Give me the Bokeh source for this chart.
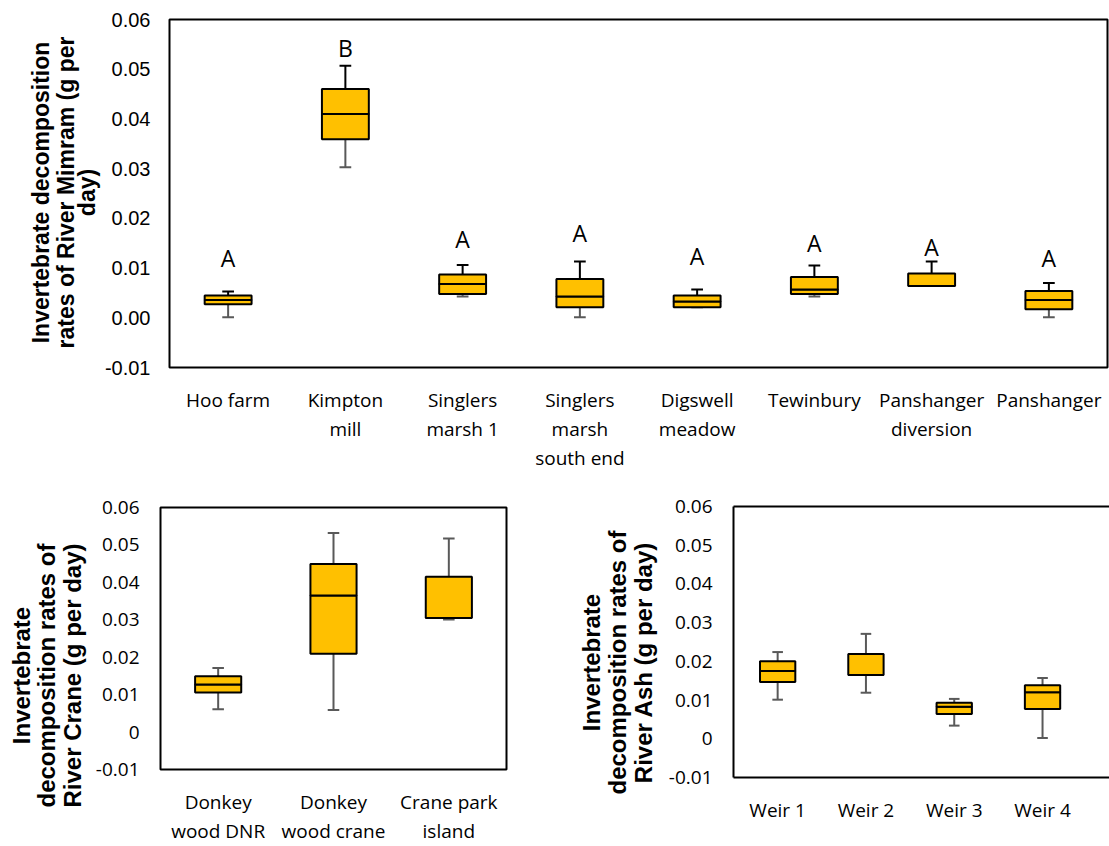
import math
import numpy as np
from bokeh.plotting import figure
from bokeh.layouts import column, row
from bokeh.models import FixedTicker, NumeralTickFormatter, Range1d, LinearAxis
from bokeh.core.properties import value
from bokeh.embed import file_html
from bokeh.resources import INLINE

# ---------------- data ----------------
mim_sites = ["Hoo farm", "Kimpton\nmill", "Singlers\nmarsh 1", "Singlers\nmarsh\nsouth end",
             "Digswell\nmeadow", "Tewinbury", "Panshanger\ndiversion", "Panshanger"]
mim_min = [0.0001, 0.0303, 0.0043, 0.0001, 0.0021, 0.0043, 0.0064, 0.0001]
mim_q1 = [0.0027, 0.0359, 0.0048, 0.0021, 0.0021, 0.0048, 0.0064, 0.0017]
mim_med = [0.0036, 0.0410, 0.0068, 0.0043, 0.0033, 0.0057, 0.0064, 0.0036]
mim_q3 = [0.0045, 0.0460, 0.0087, 0.0078, 0.0045, 0.0082, 0.0089, 0.0054]
mim_max = [0.0053, 0.0507, 0.0106, 0.0113, 0.0057, 0.0105, 0.0113, 0.0070]
mim_letters = ["A", "B", "A", "A", "A", "A", "A", "A"]
mim_letter_y = [0.0121, 0.0543, 0.0159, 0.0171, 0.0125, 0.0151, 0.0143, 0.0121]
mim_title = ["Invertebrate decomposition", "rates of River Mimram (g per", "day)"]

crane_sites = ["Donkey\nwood DNR", "Donkey\nwood crane", "Crane park\nisland"]
crane_min = [0.0061, 0.0059, 0.0301]
crane_q1 = [0.0106, 0.0209, 0.0305]
crane_med = [0.0127, 0.0365, 0.0305]
crane_q3 = [0.0149, 0.0449, 0.0415]
crane_max = [0.0171, 0.0532, 0.0517]
crane_title = ["Invertebrate", "decomposition rates of", "River Crane (g per day)"]

ash_sites = ["Weir 1", "Weir 2", "Weir 3", "Weir 4"]
ash_min = [0.0101, 0.0119, 0.0034, 0.0002]
ash_q1 = [0.0147, 0.0165, 0.0064, 0.0077]
ash_med = [0.0175, 0.0165, 0.0083, 0.0120]
ash_q3 = [0.0200, 0.0219, 0.0093, 0.0138]
ash_max = [0.0224, 0.0271, 0.0103, 0.0157]
ash_title = ["Invertebrate", "decomposition rates of", "River Ash (g per day)"]

y_ticks = [-0.01, 0.0, 0.01, 0.02, 0.03, 0.04, 0.05, 0.06]
Y0, Y1 = -0.01, 0.06

BOX_FILL = "#FFC000"
GRAY = "#595959"
TICK_FONT = "Open Sans"


def make_fig(width, height, n, x_end, mb_left, mb_right, mb_top, mb_bottom, fmt,
             ytick_font, ytick_size, ystand):
    p = figure(width=width, height=height, output_backend="svg", toolbar_location=None,
               x_range=Range1d(0.5, x_end), y_range=Range1d(Y0, Y1),
               min_border_left=mb_left, min_border_right=mb_right,
               min_border_top=mb_top, min_border_bottom=mb_bottom)
    p.frame_align = False
    p.xgrid.visible = False
    p.ygrid.visible = False
    p.background_fill_color = "white"
    p.border_fill_color = "white"
    p.outline_line_color = "black"
    p.outline_line_width = 2
    for ax in (p.xaxis[0], p.yaxis[0]):
        ax.axis_line_color = None
        ax.major_tick_line_color = None
        ax.minor_tick_line_color = None
        ax.major_tick_out = 0
        ax.major_tick_in = 0
        ax.major_label_text_color = "black"
    p.yaxis.ticker = FixedTicker(ticks=y_ticks)
    p.yaxis.formatter = NumeralTickFormatter(format=fmt)
    p.yaxis.major_label_text_font = ytick_font
    p.yaxis.major_label_text_font_size = ytick_size
    p.yaxis.major_label_standoff = ystand
    p.xaxis.ticker = FixedTicker(ticks=list(range(1, n + 1)))
    p.xaxis.major_label_text_font = TICK_FONT
    p.xaxis.major_label_text_font_size = "19px"
    p.xaxis.major_label_standoff = 19
    p.xaxis.major_label_text_line_height = 1.13
    return p


def title_fig(width, height, lines, xs, ys, size):
    t = figure(width=width, height=height, output_backend="svg", toolbar_location=None,
               x_range=Range1d(0, width), y_range=Range1d(0, height),
               x_axis_type=None, y_axis_type=None, min_border=0)
    t.frame_align = False
    t.xgrid.visible = False
    t.ygrid.visible = False
    t.outline_line_color = None
    t.background_fill_color = "white"
    t.border_fill_color = "white"
    t.text(x=xs, y=ys, text=lines, angle=math.pi / 2,
           text_font=value("Liberation Sans"), text_font_style="bold",
           text_font_size=size, text_align="center", text_baseline="middle",
           text_color="black")
    return t


def draw_boxes(p, vmin, q1, med, q3, vmax, box_w, cap_w, upper_color, lw=2):
    x = np.arange(1, len(q1) + 1, dtype=float)
    p.segment(x0=x, y0=q3, x1=x, y1=vmax, line_color=upper_color, line_width=lw)
    p.segment(x0=x - cap_w / 2, y0=vmax, x1=x + cap_w / 2, y1=vmax, line_color=upper_color, line_width=lw)
    p.segment(x0=x, y0=q1, x1=x, y1=vmin, line_color=GRAY, line_width=lw)
    p.segment(x0=x - cap_w / 2, y0=vmin, x1=x + cap_w / 2, y1=vmin, line_color=GRAY, line_width=lw)
    p.vbar(x=x, width=box_w, bottom=q1, top=med, fill_color=BOX_FILL, line_color="black", line_width=2)
    p.vbar(x=x, width=box_w, bottom=med, top=q3, fill_color=BOX_FILL, line_color="black", line_width=2)


# ---------------- top: River Mimram ----------------
n1 = len(mim_sites)
t1 = title_fig(101, 486, mim_title, [40, 65, 86], [294, 294, 294], "23px")
p1 = make_fig(1008, 486, n1, n1 + 0.5, 66, 2, 19, 119, "0.00", "Liberation Sans", "20px", 19)
p1.xaxis.major_label_overrides = {i + 1: s for i, s in enumerate(mim_sites)}
draw_boxes(p1, mim_min, mim_q1, mim_med, mim_q3, mim_max, 0.4, 0.1, "black")
p1.text(x=np.arange(1, n1 + 1), y=mim_letter_y, text=mim_letters,
        text_font=value("Open Sans"), text_font_size="23px", text_align="center",
        text_baseline="middle", text_color="black")

# ---------------- bottom left: River Crane ----------------
n2 = len(crane_sites)
t2 = title_fig(92, 360, crane_title, [21, 46, 72], [171, 171, 171], "24px")
p2 = make_fig(468, 360, n2, n2 + 0.5, 62, 54, 21, 72, "0.[00]", TICK_FONT, "19px", 21)
p2.xaxis.major_label_overrides = {i + 1: s for i, s in enumerate(crane_sites)}
draw_boxes(p2, crane_min, crane_q1, crane_med, crane_q3, crane_max, 0.4, 0.1, GRAY)

# ---------------- bottom right: River Ash ----------------
n3 = len(ash_sites)
x_end3 = 0.5 + 379 / 89.0
t3 = title_fig(105, 360, ash_title, [31, 57, 83], [184, 184, 184], "24px")
p3 = make_fig(444, 360, n3, x_end3, 65, 0, 20, 69, "0.[00]", TICK_FONT, "19px", 21)
p3.xaxis[0].major_label_overrides = {i + 1: s for i, s in enumerate(ash_sites)}
p3.outline_line_color = None
p3.xaxis[0].axis_line_color = "black"
p3.xaxis[0].axis_line_width = 2
p3.yaxis[0].axis_line_color = "black"
p3.yaxis[0].axis_line_width = 2
top_ax = LinearAxis(ticker=FixedTicker(ticks=[]), major_label_text_color=None,
                    major_tick_line_color=None, minor_tick_line_color=None,
                    axis_line_color="black", axis_line_width=2,
                    major_tick_out=0, major_tick_in=0, major_label_standoff=0)
p3.add_layout(top_ax, "above")
draw_boxes(p3, ash_min, ash_q1, ash_med, ash_q3, ash_max, 0.4, 0.12, GRAY)

layout = column(row(t1, p1), row(t2, p2, t3, p3))
open("out.html", "w").write(file_html(layout, INLINE))
